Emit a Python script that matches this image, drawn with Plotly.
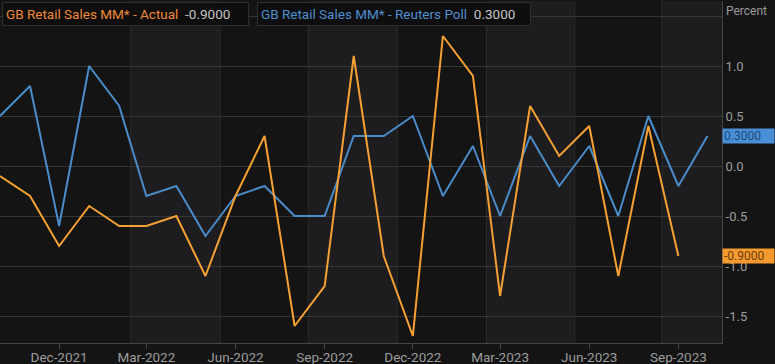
import plotly.graph_objects as go
import pandas as pd

# ---- data ----
months = pd.date_range("2021-10-01", "2023-10-01", freq="MS")
poll = [0.5, 0.8, -0.6, 1.0, 0.6, -0.3, -0.2, -0.7, -0.3, -0.2, -0.5, -0.5, 0.3,
        0.3, 0.5, -0.3, 0.2, -0.5, 0.3, -0.2, 0.2, -0.5, 0.5, -0.2, 0.3]
actual = [-0.1, -0.3, -0.8, -0.4, -0.6, -0.6, -0.5, -1.1, -0.3, 0.3, -1.6, -1.2,
          1.1, -0.9, -1.7, 1.3, 0.9, -1.3, 0.6, 0.1, 0.4, -1.1, 0.4, -0.9]
tick_dates = ["2021-12-01", "2022-03-01", "2022-06-01", "2022-09-01",
              "2022-12-01", "2023-03-01", "2023-06-01", "2023-09-01"]
y_ticks = [-1.5, -1.0, -0.5, 0.0, 0.5, 1.0, 1.5]
y_labels = ["-1.5", "-1.0", "-0.5", "0.0", "0.5", "1.0", ""]
actual_name = "GB Retail Sales MM* - Actual"
poll_name = "GB Retail Sales MM* - Reuters Poll"

ORANGE = "#f5a033"
BLUE = "#4a8cc9"
BG = "#141414"
BAND = "#1d1d1f"
GRID = "#363636"
VGRID = "#2c2c2c"
TXT = "#9c9c9c"

x_start = pd.Timestamp("2021-10-01")
x_end = pd.Timestamp("2023-10-16")

fig = go.Figure()
fig.add_trace(go.Scatter(x=months, y=poll, mode="lines",
                         line=dict(color=BLUE, width=2), name=poll_name))
fig.add_trace(go.Scatter(x=months[:len(actual)], y=actual, mode="lines",
                         line=dict(color=ORANGE, width=2), name=actual_name))

# alternating background bands and vertical grid lines (mid-month of Feb/May/Aug/Nov)
vlines = [pd.Timestamp(d) for d in ["2022-02-13", "2022-05-16", "2022-08-15", "2022-11-15",
                                    "2023-02-15", "2023-05-17", "2023-08-15"]]
shapes = []
edges = vlines + [x_end]
for i in range(0, len(vlines), 2):
    shapes.append(dict(type="rect", xref="x", yref="paper", x0=edges[i], x1=edges[i + 1],
                       y0=0, y1=1, fillcolor=BAND, line=dict(width=0), layer="below"))
for v in vlines:
    shapes.append(dict(type="line", xref="x", yref="paper", x0=v, x1=v, y0=0, y1=1,
                       line=dict(color=VGRID, width=1), layer="below"))

FONT = "Roboto"
annotations = [
    dict(xref="paper", yref="paper", x=2 / 722, y=1, xanchor="left", yanchor="top", yshift=-1,
         text=f"<span style='color:#ee8a3a'>{actual_name}</span>  "
              f"<span style='color:#c4c4c4'>{actual[-1]:.4f}</span>",
         showarrow=False, align="left", width=239, height=16, borderpad=3,
         bgcolor="#0e0e0e", bordercolor="#2e2e2e", borderwidth=1,
         font=dict(family=FONT, size=13.5)),
    dict(xref="paper", yref="paper", x=257 / 722, y=1, xanchor="left", yanchor="top", yshift=-1,
         text=f"<span style='color:#4f8fd0'>{poll_name}</span>  "
              f"<span style='color:#c4c4c4'>{poll[-1]:.4f}</span>",
         showarrow=False, align="left", width=266, height=16, borderpad=3,
         bgcolor="#0e0e0e", bordercolor="#2e2e2e", borderwidth=1,
         font=dict(family=FONT, size=13.5)),
    dict(xref="paper", yref="paper", x=1, y=1, xanchor="left", yanchor="top", xshift=2, yshift=-1,
         text="Percent", showarrow=False, font=dict(family=FONT, size=12, color=TXT)),
    dict(xref="paper", yref="y", x=1, y=poll[-1], xanchor="left", yanchor="middle",
         text=f"{poll[-1]:.4f}", showarrow=False, bgcolor="#4a8fd6", width=49, height=12,
         borderpad=1, align="left", font=dict(family=FONT, size=12, color="#1d4b7d")),
    dict(xref="paper", yref="y", x=1, y=actual[-1], xanchor="left", yanchor="middle",
         text=f"{actual[-1]:.4f}", showarrow=False, bgcolor="#f59a2f", width=49, height=12,
         borderpad=1, align="left", font=dict(family=FONT, size=12, color="#6b3c08")),
]

fig.update_layout(
    width=775, height=364,
    margin=dict(l=0, r=53, t=1, b=21),
    paper_bgcolor=BG, plot_bgcolor=BG,
    showlegend=False,
    shapes=shapes, annotations=annotations,
    font=dict(family=FONT, size=12, color=TXT),
    xaxis=dict(type="date", range=[x_start, x_end], tickvals=tick_dates,
               tickformat="%b-%Y", showgrid=False, zeroline=False, automargin=False,
               showline=True, linecolor="#454545", linewidth=1,
               ticks="outside", ticklen=5, tickcolor="#454545", ticklabelstandoff=-3,
               tickfont=dict(family=FONT, size=13.5, color=TXT)),
    yaxis=dict(side="right", range=[-1.77, 1.65], tickvals=y_ticks, ticktext=y_labels,
               showgrid=True, gridcolor=GRID, gridwidth=1, zeroline=False, automargin=False,
               showline=True, linecolor="#454545", linewidth=1, mirror=False,
               ticks="", tickfont=dict(family=FONT, size=13, color=TXT)),
)

fig.write_html("out.html", config={"displayModeBar": False},
               post_script="document.body.style.margin='0px';document.body.style.padding='0px';")
